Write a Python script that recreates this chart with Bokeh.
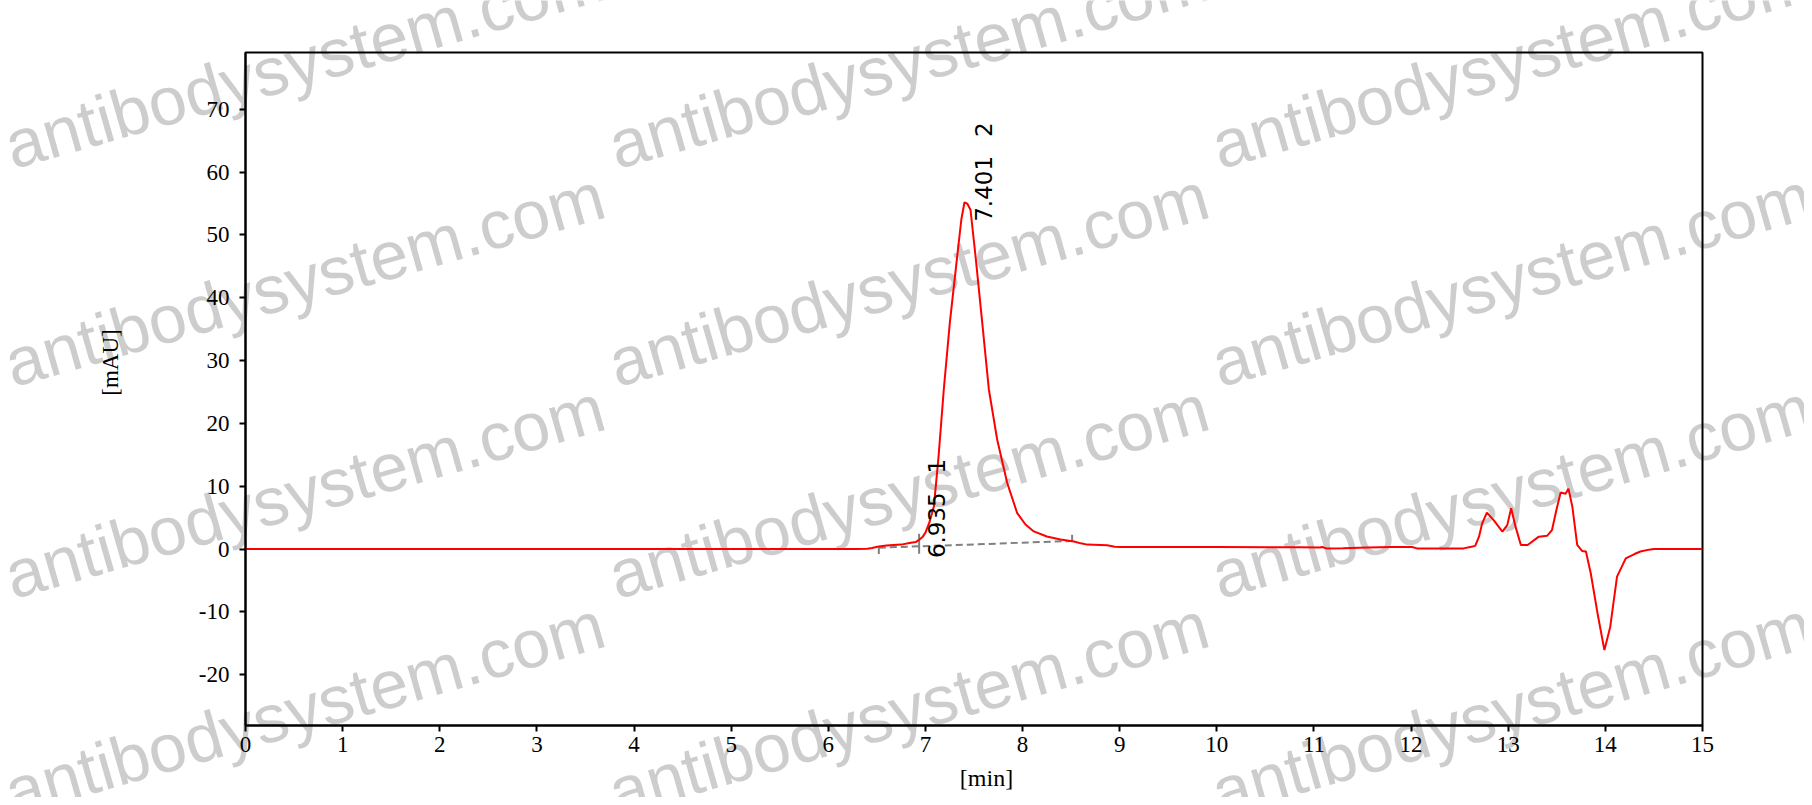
import math
from bokeh.plotting import figure
from bokeh.models import Label, FixedTicker, ColumnDataSource
from bokeh.embed import file_html
from bokeh.resources import INLINE

# ---- chromatogram trace (min, mAU) ----
time_min = [0.0, 6.30, 6.40, 6.45, 6.52, 6.60, 6.67, 6.75, 6.85, 6.90, 6.93, 6.97,
            7.00, 7.04, 7.087, 7.135, 7.189, 7.251, 7.327, 7.37, 7.402, 7.43, 7.464,
            7.516, 7.585, 7.653, 7.739, 7.842, 7.945, 8.03, 8.116, 8.25, 8.39, 8.53,
            8.60, 8.666, 8.80, 8.87, 8.95, 9.01, 10.0, 10.86, 11.06, 11.085, 11.10,
            11.13, 11.30, 11.55, 11.80, 12.01, 12.06, 12.54, 12.62, 12.66, 12.70,
            12.73, 12.78, 12.85, 12.94, 12.99, 13.03, 13.075, 13.13, 13.20, 13.315,
            13.40, 13.45, 13.50, 13.54, 13.59, 13.62, 13.66, 13.71, 13.76, 13.80,
            13.85, 13.92, 13.99, 14.05, 14.12, 14.21, 14.30, 14.36, 14.45, 14.50, 15.0]
signal_mau = [0.0, 0.0, 0.05, 0.15, 0.4, 0.55, 0.64, 0.7, 1.0, 1.1, 1.4, 1.9,
              2.6, 4.2, 6.75, 14.7, 25.4, 36.0, 46.6, 52.5, 55.2, 55.0, 54.0,
              46.6, 36.0, 25.4, 17.4, 10.5, 5.7, 3.9, 2.8, 2.0, 1.5, 1.2,
              0.9, 0.7, 0.65, 0.6, 0.35, 0.3, 0.3, 0.27, 0.25, 0.33, 0.25,
              0.1, 0.12, 0.22, 0.3, 0.33, 0.1, 0.1, 0.35, 0.5, 2.0,
              4.0, 5.8, 4.6, 2.76, 3.8, 6.5, 3.56, 0.64, 0.64, 1.97,
              2.1, 3.0, 6.5, 9.0, 8.8, 9.6, 6.75, 0.64, -0.3, -0.4,
              -3.9, -10.3, -16.1, -12.4, -4.4, -1.5, -0.8, -0.4, -0.1, 0.0, 0.0]

# ---- integration results ----
peak_ids = [1, 2]
peak_times = [6.935, 7.401]
baseline_t = [6.52, 8.51]
baseline_v = [0.2, 1.28]

# ---- axes / texts ----
x_ticks = list(range(0, 16))
y_ticks = list(range(-20, 80, 10))
x_label = "[min]"
y_label = "[mAU]"
watermark = "antibodysystem.com"

SERIF = "Liberation Serif"
SANS = "DejaVu Sans"
W, H = 1804, 797

# ---------- background layer: watermark + axis titles (separate root, not clipped) ----------
bg = figure(width=W, height=H, x_range=(0, W), y_range=(0, H),
            min_border=0, x_axis_type=None, y_axis_type=None,
            toolbar_location=None, output_backend="svg",
            outline_line_color=None, background_fill_color="white",
            border_fill_color="white",
            styles={"position": "absolute", "left": "0px", "top": "0px", "z-index": "0"})
bg.grid.visible = False

wm_angle = math.radians(16)
for wx in [6, 610, 1213]:
    for wy in [146, 364, 576, 793]:
        bg.add_layout(Label(x=wx, y=H - wy, text=watermark, angle=wm_angle,
                            text_font="Liberation Sans", text_font_size="68px",
                            text_color="#cdcdcd", text_align="left",
                            text_baseline="alphabetic"))

bg.add_layout(Label(x=110, y=H - 362, text=y_label, angle=math.pi / 2,
                    text_font=SERIF, text_font_size="23px", text_color="black",
                    text_align="center", text_baseline="middle"))
bg.add_layout(Label(x=986, y=H - 777, text=x_label,
                    text_font=SERIF, text_font_size="24px", text_color="black",
                    text_align="center", text_baseline="middle"))

# ---------- chart layer ----------
p = figure(frame_width=1457, frame_height=673,
           x_range=(0, 15), y_range=(-28.1, 79.05),
           min_border_left=245, min_border_right=102,
           min_border_top=52, min_border_bottom=72,
           output_backend="svg", toolbar_location=None,
           background_fill_alpha=0, border_fill_alpha=0,
           styles={"position": "relative", "z-index": "1"})
p.grid.visible = False
p.outline_line_color = "black"
p.outline_line_width = 2

for ax in (p.xaxis[0], p.yaxis[0]):
    ax.axis_line_color = "black"
    ax.axis_line_width = 2
    ax.major_tick_line_color = "black"
    ax.major_tick_line_width = 2
    ax.major_tick_in = 0
    ax.major_tick_out = 6
    ax.minor_tick_line_color = None
    ax.major_label_text_font = SERIF
    ax.major_label_text_font_size = "23px"
    ax.major_label_text_color = "black"

p.xaxis.ticker = FixedTicker(ticks=x_ticks)
p.yaxis.ticker = FixedTicker(ticks=y_ticks)
p.yaxis.major_label_overrides = {t: str(t) for t in y_ticks}
p.xaxis.major_label_standoff = 5
p.yaxis.major_label_standoff = 10

# integration baseline (dashed) and event ticks
p.line(baseline_t, baseline_v, line_color="#808080", line_width=2, line_dash="7 4")
slope = (baseline_v[1] - baseline_v[0]) / (baseline_t[1] - baseline_t[0])
split_v = baseline_v[0] + slope * (peak_times[0] - baseline_t[0])
p.segment(x0=[baseline_t[0], peak_times[0], baseline_t[1]],
          y0=[baseline_v[0], split_v - 1.2, baseline_v[1]],
          x1=[baseline_t[0], peak_times[0], baseline_t[1]],
          y1=[baseline_v[0] - 1.0, split_v + 2.0, baseline_v[1] + 1.0],
          line_color="#808080", line_width=2)

# trace
src = ColumnDataSource(dict(t=time_min, v=signal_mau))
p.line("t", "v", source=src, line_color="#ff0000", line_width=2)

# peak labels (rotated, reading upward)
label_dx = [0.182, 0.20]
label_y = [-1.45, 52.1]
for pid, pt, dx, ly in zip(peak_ids, peak_times, label_dx, label_y):
    p.add_layout(Label(x=pt + dx, y=ly, text=f"{pt:.3f}\u2002\u00a0{pid}",
                       angle=math.pi / 2, text_font=SANS, text_font_size="23px",
                       text_color="black", text_align="left",
                       text_baseline="alphabetic"))

open("out.html", "w").write(file_html([bg, p], INLINE))
